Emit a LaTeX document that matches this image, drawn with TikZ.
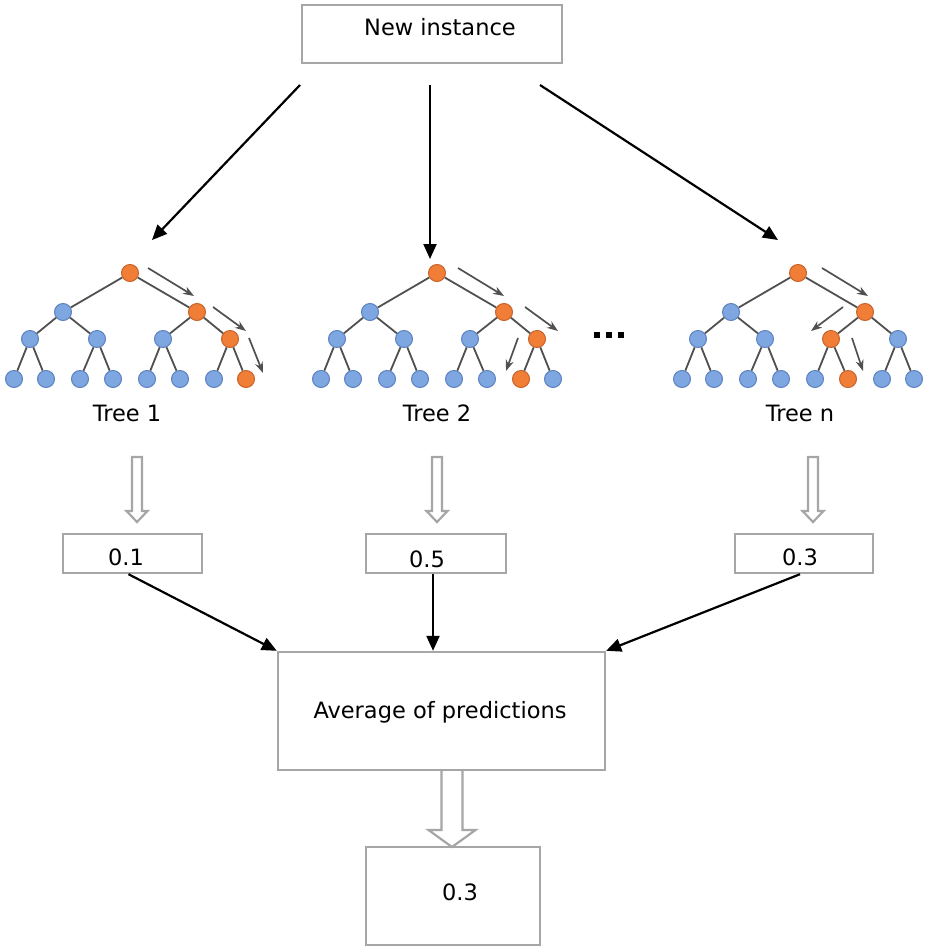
\documentclass[tikz,border=0pt]{standalone}
\usepackage{fontspec}
\setmainfont{DejaVu Sans}
\usetikzlibrary{arrows.meta}
\definecolor{boxgray}{HTML}{A6A6A6}
\definecolor{nblue}{HTML}{7EA6E0}
\definecolor{nblueb}{HTML}{5B82C0}
\definecolor{norange}{HTML}{F07E36}
\definecolor{norangeb}{HTML}{C8622A}
\definecolor{edgegray}{HTML}{505050}
\tikzset{
 box/.style={draw=boxgray, line width=2.4pt, inner sep=0pt},
 lbl/.style={font=\fontsize{22.5}{26}\selectfont, inner sep=0pt},
 treenode/.style={circle, draw=nblueb, fill=nblue, line width=1pt, minimum size=17pt, inner sep=0pt},
 orng/.style={draw=norangeb, fill=norange},
 te/.style={draw=edgegray, line width=1.8pt},
 ta/.style={draw=edgegray, line width=1.7pt, -{Stealth[length=11pt,width=8pt]}},
 ma/.style={line width=2.2pt, -{Triangle[length=15pt,width=13pt]}},
 hollow/.style={draw=boxgray, line width=2.2pt, fill=white, line join=miter},
 t1r/.style=orng, t1b/.style=orng, t1c4/.style=orng, t1d8/.style=orng,
 t2r/.style=orng, t2b/.style=orng, t2c4/.style=orng, t2d7/.style=orng,
 t3r/.style=orng, t3b/.style=orng, t3c3/.style=orng, t3d6/.style=orng,
}
\newcommand\mytree[2]{%
 \node[treenode,#1r/.try] (#1r) at (#2,273) {};
 \node[treenode,#1a/.try] (#1a) at (#2-67,312) {};
 \node[treenode,#1b/.try] (#1b) at (#2+67,312) {};
 \node[treenode,#1c1/.try] (#1c1) at (#2-100,339) {};
 \node[treenode,#1c2/.try] (#1c2) at (#2-33,339) {};
 \node[treenode,#1c3/.try] (#1c3) at (#2+33,339) {};
 \node[treenode,#1c4/.try] (#1c4) at (#2+100,339) {};
 \node[treenode,#1d1/.try] (#1d1) at (#2-116,379) {};
 \node[treenode,#1d2/.try] (#1d2) at (#2-84,379) {};
 \node[treenode,#1d3/.try] (#1d3) at (#2-50,379) {};
 \node[treenode,#1d4/.try] (#1d4) at (#2-17,379) {};
 \node[treenode,#1d5/.try] (#1d5) at (#2+17,379) {};
 \node[treenode,#1d6/.try] (#1d6) at (#2+50,379) {};
 \node[treenode,#1d7/.try] (#1d7) at (#2+84,379) {};
 \node[treenode,#1d8/.try] (#1d8) at (#2+116,379) {};
 \draw[te] (#1r) -- (#1a); \draw[te] (#1r) -- (#1b);
 \draw[te] (#1a) -- (#1c1); \draw[te] (#1a) -- (#1c2);
 \draw[te] (#1b) -- (#1c3); \draw[te] (#1b) -- (#1c4);
 \draw[te] (#1c1) -- (#1d1); \draw[te] (#1c1) -- (#1d2);
 \draw[te] (#1c2) -- (#1d3); \draw[te] (#1c2) -- (#1d4);
 \draw[te] (#1c3) -- (#1d5); \draw[te] (#1c3) -- (#1d6);
 \draw[te] (#1c4) -- (#1d7); \draw[te] (#1c4) -- (#1d8);
}
\newcommand\hollowarrow[7]{% cx, top, headstart, tip, shafthalf, headhalf, close
 \draw[hollow] ({#1-#5},#2) -- ({#1-#5},#3) -- ({#1-#6},#3) -- (#1,#4) -- ({#1+#6},#3) -- ({#1+#5},#3) -- ({#1+#5},#2) #7;
}
\begin{document}
\begin{tikzpicture}[x=1pt,y=-1pt]
\useasboundingbox (0,0) rectangle (927,948);
% top box
\node[box, minimum width=260pt, minimum height=58pt] (ni) at (432,34) {};
\node[lbl] (nitext) at (440,27) {New instance};
% trees
\mytree{t1}{130}
\mytree{t2}{437}
\mytree{t3}{798}
% path arrows in trees
\coordinate (a1s) at (148,268); \coordinate (a1e) at (194,296);
\coordinate (a2s) at (213,307); \coordinate (a2e) at (246,331);
\coordinate (a3s) at (249,338); \coordinate (a3e) at (263,373);
\draw[ta] (a1s) -- (a1e); \draw[ta] (a2s) -- (a2e); \draw[ta] (a3s) -- (a3e);
\coordinate (b1s) at (458,268); \coordinate (b1e) at (504,296);
\coordinate (b2s) at (525,307); \coordinate (b2e) at (558,331);
\coordinate (b3s) at (518,338); \coordinate (b3e) at (506,371);
\draw[ta] (b1s) -- (b1e); \draw[ta] (b2s) -- (b2e); \draw[ta] (b3s) -- (b3e);
\coordinate (c1s) at (822,268); \coordinate (c1e) at (868,296);
\coordinate (c2s) at (843,307); \coordinate (c2e) at (811,331);
\coordinate (c3s) at (852,338); \coordinate (c3e) at (863,371);
\draw[ta] (c1s) -- (c1e); \draw[ta] (c2s) -- (c2e); \draw[ta] (c3s) -- (c3e);
% dots
\fill (594,332) rectangle (600,338);
\fill (606,332) rectangle (612,338);
\fill (618,332) rectangle (624,338);
% tree labels
\node[lbl] (l1) at (127,413) {Tree 1};
\node[lbl] (l2) at (437,413) {Tree 2};
\node[lbl] (l3) at (800,413) {Tree n};
% arrows from new instance
\coordinate (s1) at (300,85); \coordinate (e1) at (152,240);
\coordinate (s2) at (430,85); \coordinate (e2) at (430,259);
\coordinate (s3) at (540,85); \coordinate (e3) at (778,240);
\draw[ma] (s1) -- (e1);
\draw[ma] (s2) -- (e2);
\draw[ma] (s3) -- (e3);
% hollow arrows
\hollowarrow{137}{457}{511}{522}{5}{10.5}{-- cycle}
\hollowarrow{437}{457}{511}{522}{5}{10.5}{-- cycle}
\hollowarrow{813}{457}{511}{522}{5}{10.5}{-- cycle}
% prediction boxes
\node[box, minimum width=139pt, minimum height=39pt] (p1) at (132.5,553.5) {};
\node[lbl] (p1t) at (126,557) {0.1};
\node[box, minimum width=140pt, minimum height=39pt] (p2) at (436,553.5) {};
\node[lbl] (p2t) at (427,559) {0.5};
\node[box, minimum width=138pt, minimum height=39pt] (p3) at (804,553.5) {};
\node[lbl] (p3t) at (800,557) {0.3};
% average box
\node[box, minimum width=327pt, minimum height=118pt] (avg) at (441.5,711) {};
\node[lbl] (avgt) at (440,712) {Average of predictions};
\draw[ma] ([xshift=-4pt]p1.south) -- (avg.north west);
\draw[ma] ([xshift=-3pt]p2.south) -- ([xshift=-3pt]p2.south |- avg.north);
\draw[ma] ([xshift=-4pt]p3.south) -- (avg.north east);
% final box
\node[box, minimum width=174pt, minimum height=98pt] (fin) at (453,896) {};
\node[lbl] (fint) at (460,892) {0.3};
\hollowarrow{452}{771}{830}{847}{10.5}{23.5}{}
\end{tikzpicture}
\end{document}
